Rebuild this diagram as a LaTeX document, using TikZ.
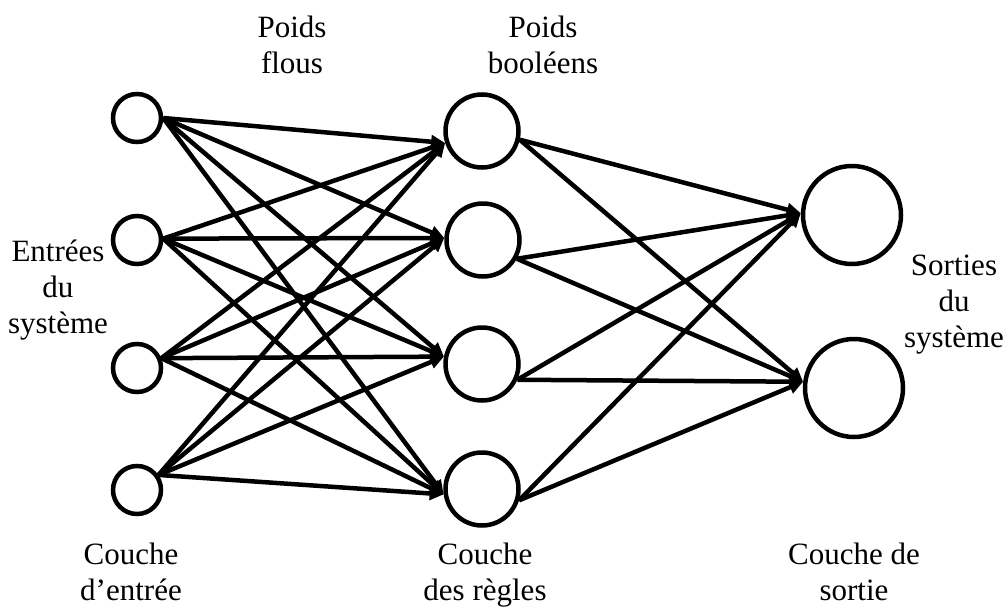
\documentclass[tikz,border=0pt]{standalone}
\usepackage{fontspec}
\setmainfont{Liberation Serif}
\usetikzlibrary{arrows.meta}
\begin{document}
\begin{tikzpicture}[x=1pt,y=-1pt,
  neuron/.style={circle,draw,line width=4.5pt,inner sep=0pt},
  inneur/.style={neuron,minimum size=48pt},
  ruleneur/.style={neuron,minimum size=73pt},
  outneur/.style={neuron,minimum size=98pt},
  link/.style={line width=4.5pt,-{Triangle[length=14pt,width=13pt]}},
  lbl/.style={font=\fontsize{31}{36}\selectfont,align=center,inner sep=0pt,anchor=base}]
\useasboundingbox (0,0) rectangle (1007,608);

% input layer
\node[inneur] (in1) at (137,118) {};
\node[inneur] (in2) at (137,240) {};
\node[inneur] (in3) at (137,368) {};
\node[inneur] (in4) at (137,490) {};

% rule layer
\node[ruleneur] (rule1) at (482,131) {};
\node[ruleneur] (rule2) at (483,240) {};
\node[ruleneur] (rule3) at (482,364) {};
\node[ruleneur] (rule4) at (482,489) {};

% output layer
\node[outneur] (out1) at (852,215) {};
\node[outneur] (out2) at (854,388) {};

% fuzzy weights: every input to every rule
\foreach \i/\a in {1/0,2/3,3/22,4/35}
  \foreach \j/\b in {1/198,2/177,3/169,4/188}
    \draw[link] (in\i.\a) -- (rule\j.\b);

% boolean weights: every rule to every output
\foreach \j/\a in {1/347,2/331,3/336,4/343}
  \foreach \k/\b in {1/178,2/173}
    \draw[link] (rule\j.\a) -- (out\k.\b);

% labels (anchored at the baseline of their last line)
\node[lbl] (wfuzzy) at (292,73) {Poids\\flous};
\node[lbl] (wbool) at (543,73) {Poids\\booléens};
\node[lbl] (sysin) at (58,333) {Entrées\\du\\système};
\node[lbl] (sysout) at (954,347) {Sorties\\du\\système};
\node[lbl] (layin) at (131,600) {Couche\\d’entrée};
\node[lbl] (layrule) at (485,600) {Couche\\des règles};
\node[lbl] (layout) at (854,600) {Couche de\\sortie};
\end{tikzpicture}
\end{document}
